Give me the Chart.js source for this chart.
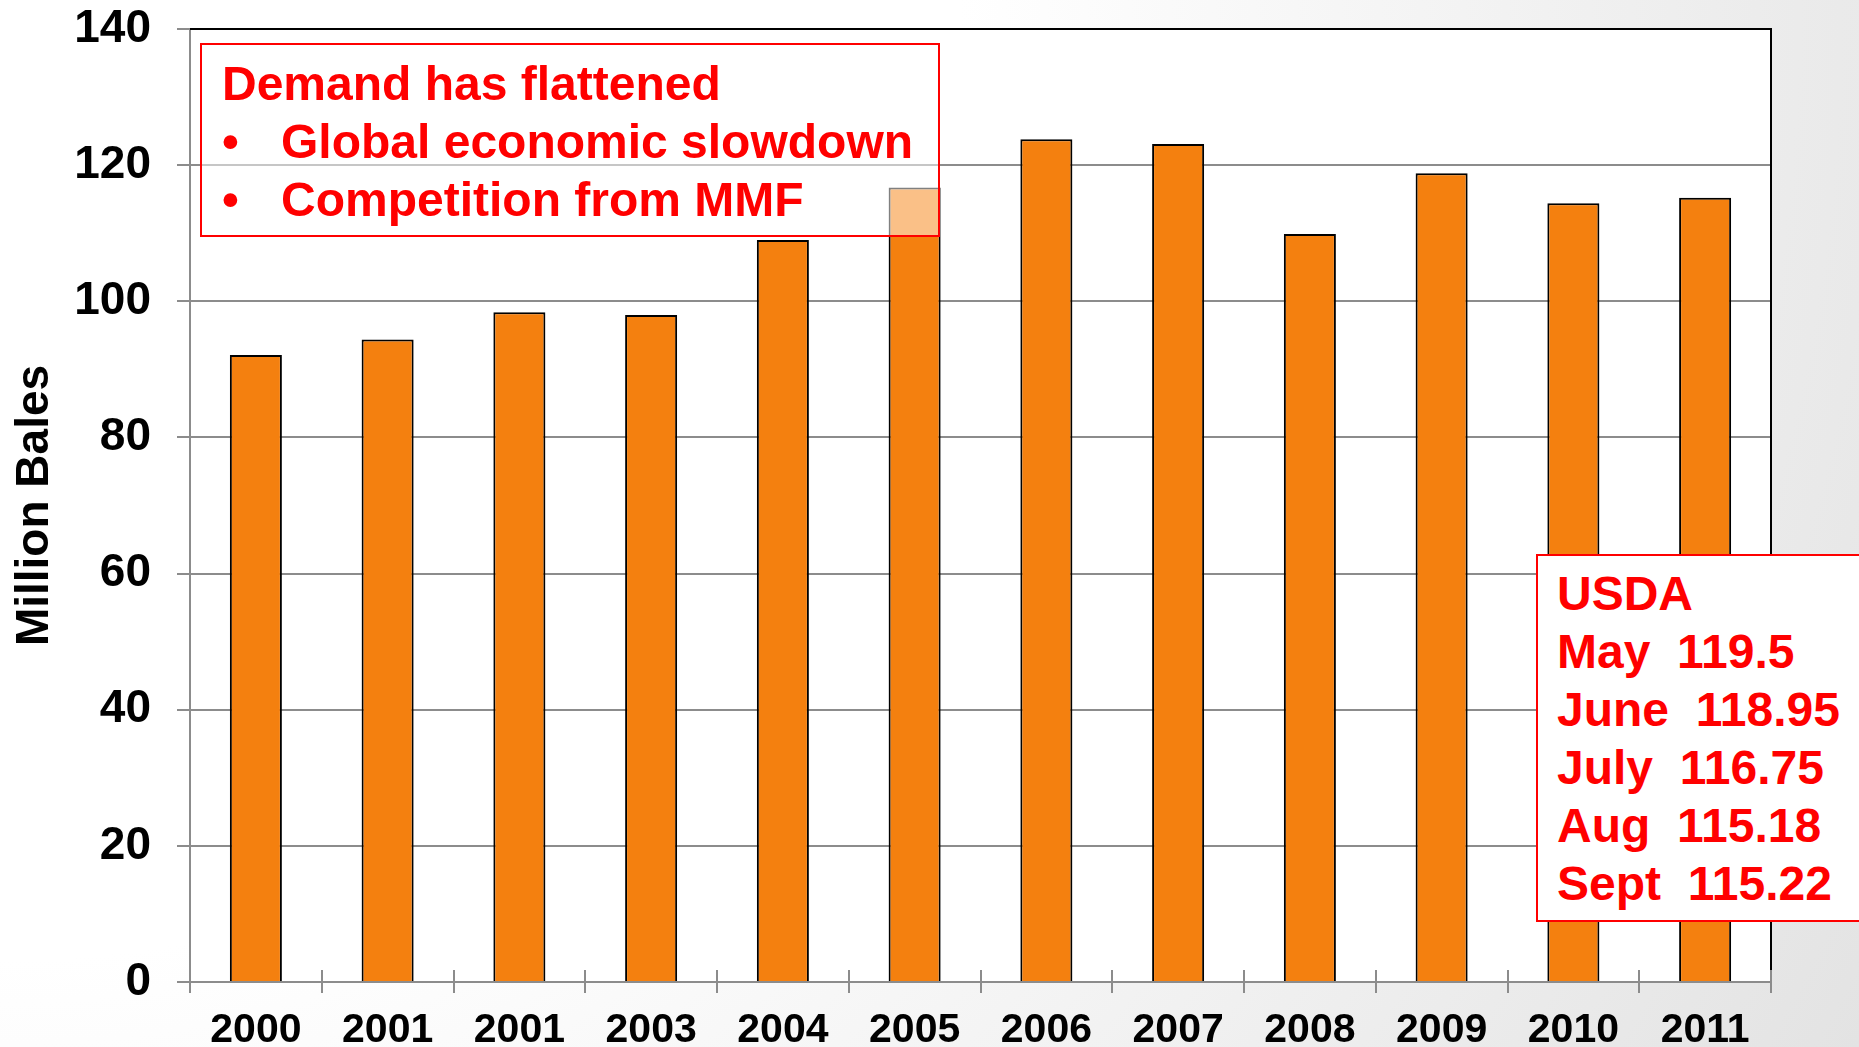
<!DOCTYPE html>
<html>
<head>
<meta charset="utf-8">
<script src="https://cdn.jsdelivr.net/npm/chart.js@4.4.1/dist/chart.umd.min.js"></script>
<style>
    html, body { margin: 0; padding: 0; }
    body {
        width: 1859px;
        height: 1047px;
        overflow: hidden;
        position: relative;
        background: radial-gradient(circle at 0% 0%, #ffffff 45%, #e3e3e3 100%);
        font-family: "Liberation Sans", Arial, sans-serif;
    }
    #chart { position: absolute; left: 0; top: 0; }
    .note {
        position: absolute;
        box-sizing: border-box;
        border: 2px solid #ff0000;
        color: #ff0000;
        font-weight: bold;
        font-size: 48px;
        line-height: 58px;
        white-space: pre;
    }
    #demandNote {
        left: 200px; top: 43px; width: 740px; height: 194px;
        padding: 10px 0 0 20px;
        background: rgba(255, 255, 255, 0.5);
    }
    #demandNote .bullet { display: inline-block; width: 59px; }
    #usdaNote {
        left: 1536px; top: 554px; width: 330px; height: 368px;
        padding: 9px 0 0 19px;
        background: #ffffff;
    }
</style>
</head>
<body>
<canvas id="chart" width="1859" height="1047"></canvas>
<div class="note" id="demandNote"></div>
<div class="note" id="usdaNote"></div>
<script>
// values (million bales)
const years = ['2000', '2001', '2001', '2003', '2004', '2005', '2006', '2007', '2008', '2009', '2010', '2011'];
const demand = [92.1, 94.4, 98.4, 98.0, 109.0, 116.7, 123.8, 123.1, 109.9, 118.8, 114.4, 115.2];
const yTicks = [0, 20, 40, 60, 80, 100, 120, 140];

const noteTitle = 'Demand has flattened';
const noteBullets = ['Global economic slowdown', 'Competition from MMF'];
const usdaLines = ['USDA', 'May  119.5', 'June  118.95', 'July  116.75', 'Aug  115.18', 'Sept  115.22'];

// fill the text boxes
const demandNote = document.getElementById('demandNote');
let html = '<div>' + noteTitle + '</div>';
noteBullets.forEach(b => {
    html += '<div><span class="bullet">•</span>' + b + '</div>';
});
demandNote.innerHTML = html;
document.getElementById('usdaNote').innerHTML = usdaLines.map(l => '<div>' + l + '</div>').join('');

const FONT = '"Liberation Sans", Arial, sans-serif';

// white plot area, black top/right border, x tick marks crossing the axis
const plotFrame = {
    id: 'plotFrame',
    beforeDraw(chart) {
        const { ctx, chartArea } = chart;
        ctx.save();
        ctx.fillStyle = '#ffffff';
        ctx.fillRect(chartArea.left, chartArea.top, chartArea.right - chartArea.left, chartArea.bottom - chartArea.top);
        ctx.restore();
    },
    afterDraw(chart) {
        const { ctx, chartArea } = chart;
        const x = chart.scales.x;
        ctx.save();
        ctx.strokeStyle = '#000000';
        ctx.lineWidth = 2;
        ctx.beginPath();
        ctx.moveTo(chartArea.left, chartArea.top);
        ctx.lineTo(chartArea.right, chartArea.top);
        ctx.lineTo(chartArea.right, chartArea.bottom);
        ctx.stroke();

        // tick marks between categories
        ctx.strokeStyle = '#8c8c8c';
        ctx.lineWidth = 2;
        const step = (chartArea.right - chartArea.left) / years.length;
        for (let i = 0; i <= years.length; i++) {
            const px = Math.round(x.getPixelForValue(0) - step / 2 + i * step);
            ctx.beginPath();
            ctx.moveTo(px, chartArea.bottom - 12);
            ctx.lineTo(px, chartArea.bottom + 11);
            ctx.stroke();
        }
        ctx.restore();
    }
};

new Chart(document.getElementById('chart').getContext('2d'), {
    type: 'bar',
    data: {
        labels: years,
        datasets: [{
            label: 'Million Bales',
            data: demand,
            backgroundColor: '#f4800f',
            borderColor: '#000000',
            borderWidth: 2,
            categoryPercentage: 1,
            barPercentage: 0.395
        }]
    },
    options: {
        responsive: false,
        animation: false,
        layout: { padding: { top: 29, right: 88, left: 0, bottom: 0 } },
        plugins: {
            legend: { display: false },
            tooltip: { enabled: false }
        },
        scales: {
            x: {
                offset: true,
                grid: { display: false },
                border: { display: true, color: '#8c8c8c', width: 2 },
                ticks: {
                    color: '#000000',
                    padding: 16,
                    font: { family: FONT, size: 41, weight: 'bold' }
                },
                afterFit(scale) { scale.height = 65; }
            },
            y: {
                min: 0,
                max: 140,
                afterBuildTicks(scale) {
                    scale.ticks = yTicks.map(v => ({ value: v }));
                },
                grid: {
                    color: '#8c8c8c',
                    lineWidth: 2,
                    tickLength: 13
                },
                border: { display: true, color: '#8c8c8c', width: 2 },
                ticks: {
                    color: '#000000',
                    padding: 26,
                    font: { family: FONT, size: 46, weight: 'bold' }
                },
                title: {
                    display: true,
                    text: 'Million Bales',
                    color: '#000000',
                    padding: { top: 8, bottom: 0 },
                    font: { family: FONT, size: 46, weight: 'bold' }
                },
                afterFit(scale) {
                    scale.width = 190;
                    // labels may overflow the plot top; keep the plot edge fixed
                    scale.paddingTop = 0;
                    scale.paddingBottom = 0;
                }
            }
        }
    },
    plugins: [plotFrame]
});
</script>
</body>
</html>
